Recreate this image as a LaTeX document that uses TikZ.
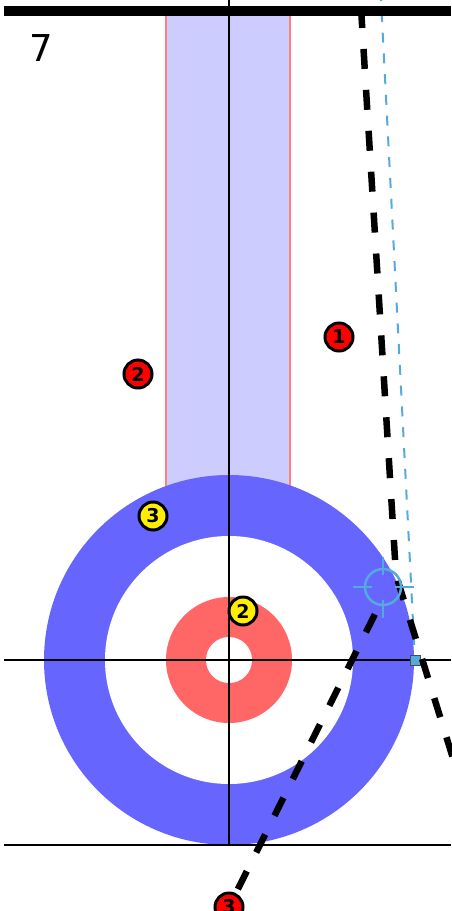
\documentclass[tikz,border=0pt]{standalone}
\usepackage{fontspec}
\setmainfont{DejaVu Sans}

\definecolor{houseblue}{HTML}{6666FF}
\definecolor{housered}{HTML}{FF6666}
\definecolor{lanefill}{HTML}{CCCCFF}
\definecolor{laneedge}{HTML}{FF7F7F}
\definecolor{aimblue}{HTML}{55AADD}
\definecolor{stonered}{HTML}{FF0000}
\definecolor{stoneyellow}{HTML}{FFEE00}

\begin{document}
\begin{tikzpicture}[
    x=1pt, y=-1pt,
    stone/.style={circle, draw=black, line width=3pt, minimum size=28pt, inner sep=0pt, font=\fontsize{19}{19}\selectfont\bfseries},
    redstone/.style={stone, fill=stonered},
    yellowstone/.style={stone, fill=stoneyellow},
    shot/.style={line width=6.5pt, dash pattern=on 20pt off 21pt},
    sightline/.style={draw=aimblue, line width=2pt, dash pattern=on 10pt off 10.8pt, dash phase=9pt},
    aimmark/.style={draw=aimblue, line width=2.5pt},
    sheetline/.style={line width=2pt}
]
    \useasboundingbox (0,0) rectangle (451,911);

    % lane and house
    \fill[lanefill] (166,10) rectangle (290,500);
    \draw[laneedge, line width=2pt] (166,10) -- (166,500) (290,10) -- (290,500);
    \coordinate (button) at (229,660);
    \fill[houseblue] (button) circle[radius=185pt];
    \fill[white] (button) circle[radius=124pt];
    \fill[housered] (button) circle[radius=63pt];
    \fill[white] (button) circle[radius=23pt];

    % tee, back and centre lines
    \draw[sheetline] (4,660) -- (451,660);
    \draw[sheetline] (4,845) -- (451,845);
    \draw[sheetline] (229,0) -- (229,845);

    % sight line to the pivot
    \coordinate (sight) at (381,0);
    \draw[sightline] (sight) -- (415,660);
    \node[draw=black!70, fill=aimblue, minimum size=10pt, inner sep=0pt, line width=1pt] (pivot) at (415,660) {};

    % path of the shot
    \coordinate (release) at (361,8);
    \coordinate (contact) at (396,575);
    \coordinate (runout) at (456,768);
    \draw[shot] (release) -- (contact) -- (runout);

    % path of the struck stone
    \coordinate (kick) at (379,606);
    \coordinate (rest3) at (229,907);
    \draw[shot, dash phase=21pt] (rest3) -- (kick);

    % aim mark
    \coordinate (aim) at (383,587);
    \draw[aimmark] (aim) circle[radius=18pt];
    \draw[aimmark] (aim) ++(-30,0) -- ++(19,0) (aim) ++(12,0) -- ++(19,0)
                   (aim) ++(0,-30) -- ++(0,18) (aim) ++(0,13) -- ++(0,18);

    % hog line and end number
    \draw[line width=10pt] (4,10.5) -- (451,10.5);
    \node[font=\fontsize{37}{37}\selectfont] (endno) at (41,48) {7};

    % stones
    \node[redstone] (r1) at (339,337) {1};
    \node[redstone] (r2) at (138,374) {2};
    \node[redstone] (r3) at (rest3) {3};
    \node[yellowstone] (y3) at (153,516) {3};
    \node[yellowstone] (y2) at (243,611) {2};
\end{tikzpicture}
\end{document}
